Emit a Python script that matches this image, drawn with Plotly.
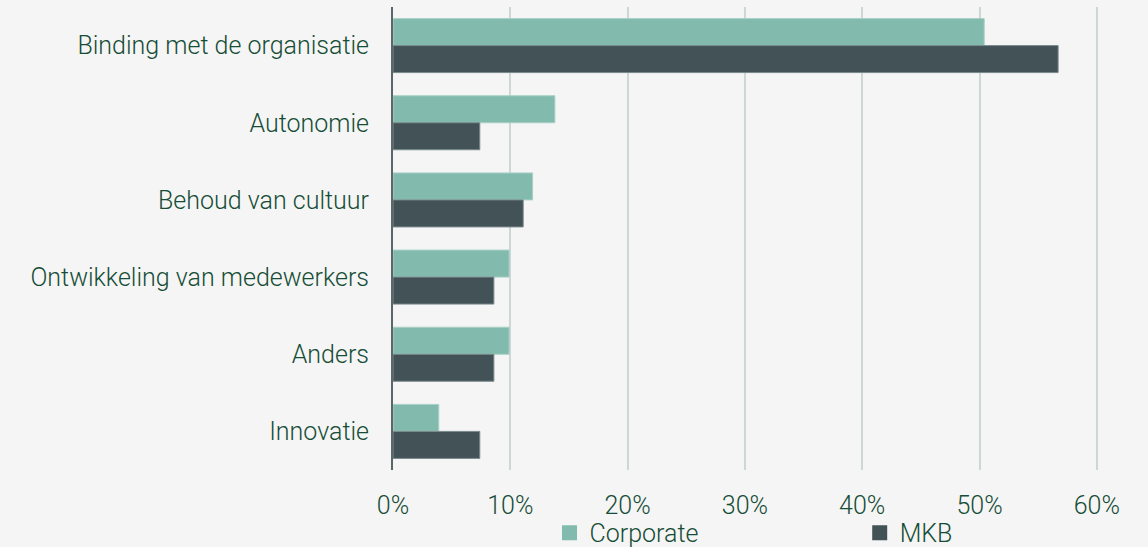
import plotly.graph_objects as go

categories = [
    "Binding met de organisatie",
    "Autonomie",
    "Behoud van cultuur",
    "Ontwikkeling van medewerkers",
    "Anders",
    "Innovatie",
]
corporate = [0.504, 0.138, 0.119, 0.099, 0.099, 0.039]
mkb = [0.567, 0.074, 0.111, 0.086, 0.086, 0.074]
x_ticks = [0, 0.1, 0.2, 0.3, 0.4, 0.5, 0.6]
x_tick_labels = ["0%", "10%", "20%", "30%", "40%", "50%", "60%"]

series = [
    ("Corporate", corporate, "#82bbad", "#a9d0c6", "legend"),
    ("MKB", mkb, "#435256", "#7a8a8d", "legend2"),
]

text_color = "#154d36"
font_family = "Roboto"
label_font = dict(family=font_family, size=25, color=text_color, weight=300)

fig = go.Figure()
for name, values, color, edge, legend_id in series:
    fig.add_trace(go.Bar(
        y=categories, x=values, name=name, orientation="h",
        marker=dict(color=color, line=dict(color=edge, width=1)),
        showlegend=False,
    ))
    # legend-only entry with a larger square swatch
    fig.add_trace(go.Scatter(
        x=[None], y=[None], mode="markers", name=name,
        marker=dict(symbol="square", size=15, color=color),
        legend=legend_id, showlegend=True,
    ))

legend_common = dict(
    orientation="h", yref="paper", y=-0.136, yanchor="middle",
    xanchor="left", font=label_font, bgcolor="rgba(0,0,0,0)",
    itemwidth=30,
)

fig.update_layout(
    width=1148, height=547,
    paper_bgcolor="#f5f5f5", plot_bgcolor="#f5f5f5",
    margin=dict(l=393, r=50, t=7, b=77, autoexpand=False),
    barmode="group", bargap=0.3, bargroupgap=0,
    font=label_font,
    legend=dict(legend_common, x=0.222),
    legend2=dict(legend_common, x=0.662),
    showlegend=True,
)
fig.update_xaxes(
    range=[0, 0.601], tickvals=x_ticks, ticktext=x_tick_labels,
    showgrid=True, gridcolor="#cfd6d6", gridwidth=2,
    zeroline=False, showline=False, ticklabelstandoff=18,
    tickfont=label_font,
)
fig.update_yaxes(
    categoryorder="array", categoryarray=categories, autorange="reversed",
    showline=True, linecolor="#5c6668", linewidth=2,
    showgrid=False, ticklabelstandoff=17,
    tickfont=label_font,
)

fig.write_html("out.html")
